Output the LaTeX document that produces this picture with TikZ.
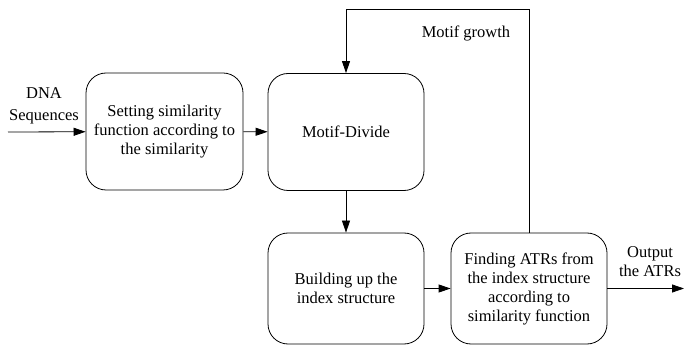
\documentclass[tikz,border=0pt]{standalone}
\usepackage{fontspec}
\setmainfont{Liberation Serif}
\usetikzlibrary{arrows.meta}
\begin{document}
\begin{tikzpicture}[x=1pt, y=-1pt,
        font=\fontsize{16.5}{19}\selectfont,
        box/.style={draw, rounded corners=20pt, line width=0.8pt, align=center,
            minimum width=156pt, minimum height=117pt, inner sep=0pt},
        flow/.style={-{Triangle[length=12pt,width=8pt]}, line width=0.8pt}]
        \useasboundingbox (0,0) rectangle (685,347);

        % Processing steps
        \node[box, minimum width=157pt] (setsim) at (164.5,131.5) {Setting similarity\\function according to\\the similarity};
        \node[box] (divide) at (346,132) {Motif-Divide};
        \node[box, minimum height=111pt] (index) at (346,288.5) {Building up the\\index structure};
        \node[box, minimum height=111pt] (finding) at (529,288.5) {Finding ATRs from\\the index structure\\according to\\similarity function};

        % Input and output
        \coordinate (in) at (8,132);
        \coordinate (out) at (684,288.5);
        \node[align=center] (dna) at (44,106) {DNA\\[3pt]Sequences};
        \node[align=center] (output) at (650,262) {Output\\the ATRs};

        % Main flow
        \draw[flow] (in) -- (setsim);
        \draw[flow] (setsim) -- (divide);
        \draw[flow] (divide) -- (index);
        \draw[flow] (index) -- (finding);
        \draw[flow] (finding) -- (out);

        % Feedback loop
        \coordinate (loop) at (529,9);
        \draw[flow] (finding.north) -- (loop) -| (divide.north);
        \node (growth) at (466,33) {Motif growth};
    \end{tikzpicture}
\end{document}
